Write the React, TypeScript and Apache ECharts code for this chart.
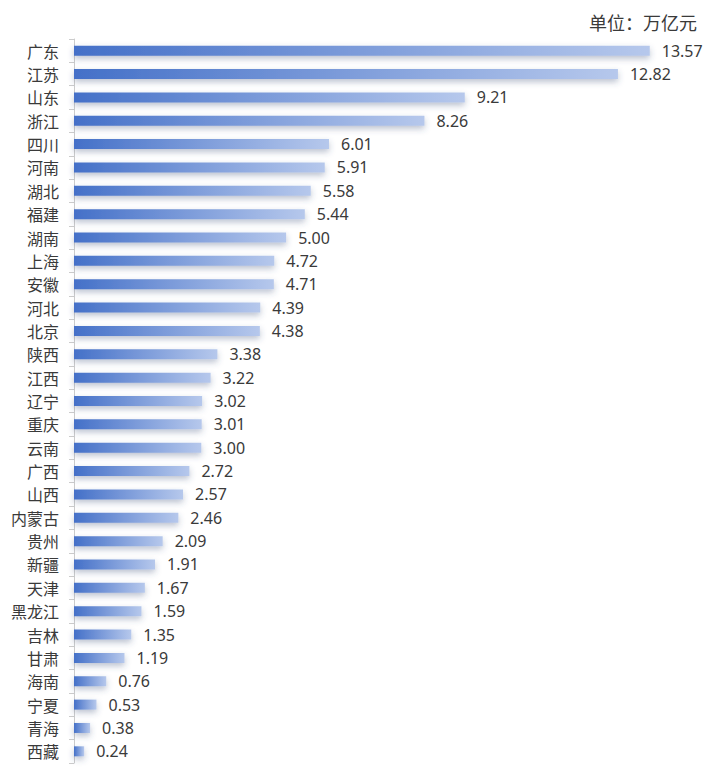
import React, { useEffect, useRef } from "react";
import * as echarts from "echarts";

const provinces = ["广东","江苏","山东","浙江","四川","河南","湖北","福建","湖南","上海","安徽","河北","北京","陕西","江西","辽宁","重庆","云南","广西","山西","内蒙古","贵州","新疆","天津","黑龙江","吉林","甘肃","海南","宁夏","青海","西藏"];
const values = [13.57,12.82,9.21,8.26,6.01,5.91,5.58,5.44,5.00,4.72,4.71,4.39,4.38,3.38,3.22,3.02,3.01,3.00,2.72,2.57,2.46,2.09,1.91,1.67,1.59,1.35,1.19,0.76,0.53,0.38,0.24];
const unitText = "单位：万亿元";

export default function App() {
  const ref = useRef<HTMLDivElement>(null);
  useEffect(() => {
    const chart = echarts.init(ref.current!, null, { renderer: "svg" });
    chart.setOption({
      animation: false,
      title: {
        text: unitText,
        right: 18,
        top: 0,
        textStyle: { fontSize: 18, fontWeight: "normal", color: "#3a3a3a", fontFamily: "Noto Sans CJK SC" },
      },
      grid: { left: 65, top: 31, bottom: 8, right: 52, containLabel: false },
      xAxis: {
        type: "value",
        min: 0,
        max: 14,
        show: false,
      },
      yAxis: {
        type: "category",
        inverse: true,
        data: provinces,
        axisLine: { show: true, lineStyle: { color: "#ccc", width: 1 } },
        axisTick: { show: true, length: 5, lineStyle: { color: "#ccc" } },
        axisLabel: { color: "#3a3a3a", fontSize: 16, margin: 15, fontFamily: "Noto Sans CJK SC" },
        splitLine: { show: false },
      },
      series: [
        {
          type: "bar",
          data: values,
          barWidth: 10,
          itemStyle: {
            color: new echarts.graphic.LinearGradient(0, 0, 1, 0, [
              { offset: 0, color: "#4470c8" },
              { offset: 1, color: "#b6c8ec" },
            ]),
            shadowBlur: 6,
            shadowColor: "rgba(60,80,120,0.35)",
            shadowOffsetY: 3,
          },
          label: {
            show: true,
            position: "right",
            distance: 12,
            color: "#3a3a3a",
            fontSize: 16,
            fontFamily: "Noto Sans",
            formatter: (p: any) => Number(p.value).toFixed(2),
          },
        },
      ],
    });
    return () => chart.dispose();
  }, []);
  return <div ref={ref} style={{ width: 712, height: 763 }} />;
}
